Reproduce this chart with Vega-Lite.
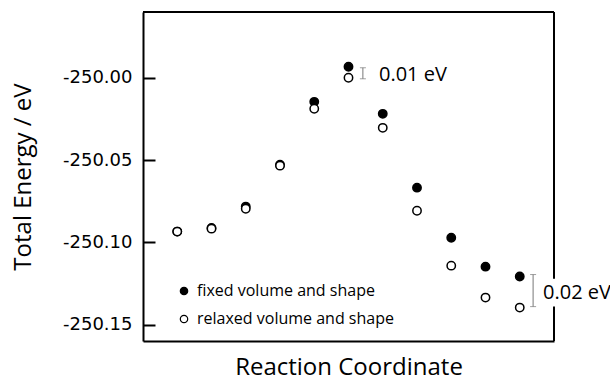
{
  "$schema": "https://vega.github.io/schema/vega-lite/v6.json",
  "width": 411,
  "height": 329,
  "autosize": {"type": "none"},
  "padding": {"left": 143, "top": 12, "right": 56, "bottom": 39},
  "config": {"view": {"stroke": null}, "font": "Open Sans"},
  "datasets": {
    "points": [
      {"x": 1, "y": -250.0935, "series": "fixed volume and shape"},
      {"x": 2, "y": -250.0913, "series": "fixed volume and shape"},
      {"x": 3, "y": -250.0783, "series": "fixed volume and shape"},
      {"x": 4, "y": -250.0528, "series": "fixed volume and shape"},
      {"x": 5, "y": -250.0146, "series": "fixed volume and shape"},
      {"x": 6, "y": -249.9933, "series": "fixed volume and shape"},
      {"x": 7, "y": -250.0219, "series": "fixed volume and shape"},
      {"x": 8, "y": -250.0668, "series": "fixed volume and shape"},
      {"x": 9, "y": -250.0972, "series": "fixed volume and shape"},
      {"x": 10, "y": -250.1148, "series": "fixed volume and shape"},
      {"x": 11, "y": -250.1208, "series": "fixed volume and shape"},
      {"x": 1, "y": -250.0935, "series": "relaxed volume and shape"},
      {"x": 2, "y": -250.0917, "series": "relaxed volume and shape"},
      {"x": 3, "y": -250.0796, "series": "relaxed volume and shape"},
      {"x": 4, "y": -250.0534, "series": "relaxed volume and shape"},
      {"x": 5, "y": -250.0188, "series": "relaxed volume and shape"},
      {"x": 6, "y": -250.0, "series": "relaxed volume and shape"},
      {"x": 7, "y": -250.0304, "series": "relaxed volume and shape"},
      {"x": 8, "y": -250.0808, "series": "relaxed volume and shape"},
      {"x": 9, "y": -250.1142, "series": "relaxed volume and shape"},
      {"x": 10, "y": -250.1336, "series": "relaxed volume and shape"},
      {"x": 11, "y": -250.1397, "series": "relaxed volume and shape"}
    ],
    "bars": [
      {"x": 6.42, "y": -249.9939, "y2": -250.0006},
      {"x": 11.39, "y": -250.1196, "y2": -250.1391}
    ],
    "labels": [
      {"x": 6.89, "y": -249.9982, "text": "0.01 eV"},
      {"x": 11.68, "y": -250.1306, "text": "0.02 eV"}
    ],
    "frame": [
      {"x": 0, "x2": 12, "y": -249.96, "y2": -249.96},
      {"x": 12, "x2": 12, "y": -249.96, "y2": -250.1221},
      {"x": 12, "x2": 12, "y": -250.1391, "y2": -250.16}
    ]
  },
  "encoding": {
    "x": {
      "field": "x",
      "type": "quantitative",
      "scale": {"domain": [0, 12], "nice": false, "zero": false},
      "axis": {
        "title": "Reaction Coordinate",
        "labels": false,
        "ticks": false,
        "grid": false,
        "domainWidth": 2,
        "domainColor": "black",
        "titleFontSize": 24,
        "titleFontWeight": "normal",
        "titleColor": "black",
        "titlePadding": 14
      }
    },
    "y": {
      "field": "y",
      "type": "quantitative",
      "scale": {"domain": [-250.16, -249.96], "nice": false, "zero": false},
      "axis": {
        "title": "Total Energy / eV",
        "values": [-250, -250.05, -250.1, -250.15],
        "labelExpr": "replace(format(datum.value, '.2f'), '\u2212', '-')",
        "grid": false,
        "domainWidth": 2,
        "domainColor": "black",
        "tickSize": -12,
        "tickWidth": 2,
        "tickColor": "black",
        "labelFont": "DejaVu Sans",
        "labelFontSize": 18,
        "labelColor": "black",
        "labelPadding": 23,
        "titleFontSize": 24,
        "titleFontWeight": "normal",
        "titleColor": "black",
        "titlePadding": 27
      }
    }
  },
  "layer": [
    {
      "data": {"name": "frame"},
      "mark": {"type": "rule", "color": "black", "strokeWidth": 2},
      "encoding": {"x2": {"field": "x2"}, "y2": {"field": "y2"}}
    },
    {
      "data": {"name": "bars"},
      "mark": {"type": "rule", "color": "#777", "strokeWidth": 1},
      "encoding": {"y2": {"field": "y2"}}
    },
    {
      "data": {"name": "bars"},
      "mark": {"type": "tick", "color": "#777", "orient": "horizontal", "size": 6, "thickness": 1},
      "encoding": {}
    },
    {
      "data": {"name": "bars"},
      "mark": {"type": "tick", "color": "#777", "orient": "horizontal", "size": 6, "thickness": 1},
      "encoding": {"y": {"field": "y2", "type": "quantitative"}}
    },
    {
      "data": {"name": "labels"},
      "mark": {"type": "text", "align": "left", "baseline": "middle", "fontSize": 20, "color": "black"},
      "encoding": {"text": {"field": "text"}}
    },
    {
      "data": {"name": "points"},
      "mark": {"type": "point", "shape": "circle", "filled": true, "size": 70, "stroke": "black", "strokeWidth": 1.5, "opacity": 1},
      "encoding": {
        "fill": {
          "field": "series",
          "type": "nominal",
          "scale": {"domain": ["fixed volume and shape", "relaxed volume and shape"], "range": ["black", "white"]},
          "legend": {
            "orient": "none",
            "legendX": 33,
            "legendY": 271,
            "title": null,
            "padding": 0,
            "labelFontSize": 16,
            "labelColor": "black",
            "labelOffset": 5,
            "labelLimit": 0,
            "rowPadding": 12,
            "symbolType": "circle",
            "symbolSize": 55,
            "symbolStrokeColor": "black",
            "symbolStrokeWidth": 1.2
          }
        }
      }
    }
  ]
}
